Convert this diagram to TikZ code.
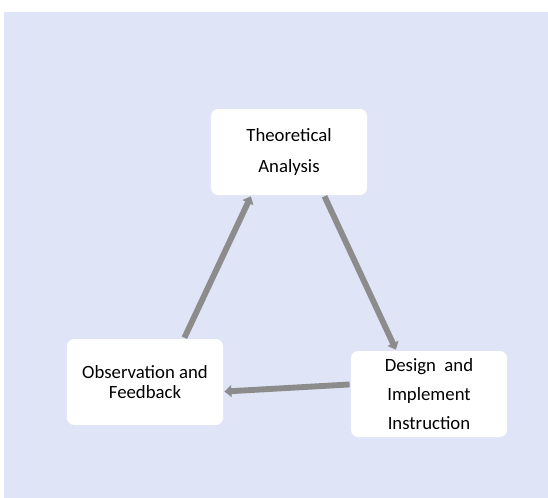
\documentclass[tikz,border=0pt]{standalone}
\usepackage{fontspec}
\setmainfont{Carlito}
\usetikzlibrary{arrows.meta}

\definecolor{panelblue}{HTML}{DFE4F6}
\definecolor{arrowgray}{HTML}{8C8C8C}

\begin{document}
\begin{tikzpicture}[
        x=0.03cm, y=-0.03cm,
        stage/.style={rectangle, rounded corners=6pt, fill=white, minimum width=4.68cm, minimum height=2.58cm, align=center, font=\fontsize{16}{26}\selectfont},
        flow/.style={draw=arrowgray, line width=5pt, -{Triangle[width=10pt, length=6pt]}, shorten <=1pt, shorten >=1pt},
    ]

    \useasboundingbox (0,0) rectangle (548,498);
    \fill[panelblue] (4,12) rectangle (548,498);

    % The three stages of the cycle
    \node[stage] (TA) at (289,152) {Theoretical\\Analysis};
    \node[stage, font=\fontsize{16}{17}\selectfont] (OF) at (145,382) {Observation and\\Feedback};
    \node[stage, font=\fontsize{16}{25}\selectfont] (DI) at (429,394) {Design~ and\\Implement\\Instruction};

    \draw[flow] (OF.48)  -- (TA.229);
    \draw[flow] (TA.309) -- (DI.127);
    \draw[flow] (DI.173) -- (OF.353);
\end{tikzpicture}
\end{document}
